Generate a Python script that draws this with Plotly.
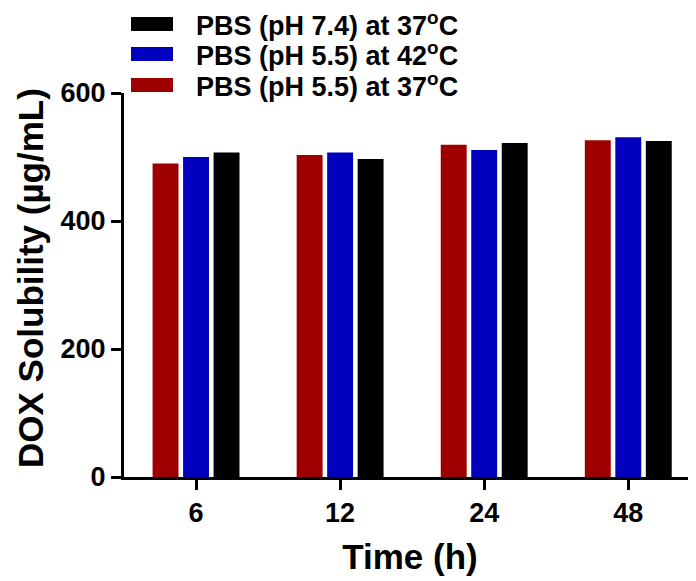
import plotly.graph_objects as go

categories = ["6", "12", "24", "48"]
series_names = ["PBS (pH 5.5) at 37<sup>o</sup>C",
                "PBS (pH 5.5) at 42<sup>o</sup>C",
                "PBS (pH 7.4) at 37<sup>o</sup>C"]
red_values = [490, 503, 519, 526]
blue_values = [500, 507, 511, 531]
black_values = [507, 497, 522, 525]
colors = ["#9E0000", "#0000BE", "#000000"]
y_ticks = [0, 200, 400, 600]
x_title = "Time (h)"
y_title = "DOX Solubility (µg/mL)"

OFF = 8  # default page body margin
W, H = 696 - OFF, 581 - OFF
L, R, T, B = 124 - OFF, 0, 93 - OFF, 104
FONT = "Liberation Sans, Arial, sans-serif"

fig = go.Figure()
for name, vals, col in zip(series_names, [red_values, blue_values, black_values], colors):
    fig.add_trace(go.Bar(x=categories, y=vals, name=name, marker_color=col,
                         marker_line_width=0, showlegend=False))

# manual legend (wide swatches); positions given in page pixels
pw = W - L - R
ph = H - T - B
def px_x(x):
    return (x - OFF - L) / pw
def px_y(y):
    return (H - B - (y - OFF)) / ph

legend_rows = [(series_names[2], colors[2], 24), (series_names[1], colors[1], 54), (series_names[0], colors[0], 85)]
for name, col, cy in legend_rows:
    fig.add_shape(type="rect", xref="paper", yref="paper",
                  x0=px_x(131), x1=px_x(173), y0=px_y(cy - 7), y1=px_y(cy + 7),
                  fillcolor=col, line_width=0)
    fig.add_annotation(xref="paper", yref="paper", x=px_x(194), y=px_y(cy),
                       text="<b>" + name + "</b>", showarrow=False,
                       xanchor="left", yanchor="middle",
                       font=dict(family=FONT, size=27, color="black"))

# y-axis title as rotated annotation (placed slightly above plot centre, as in reference)
fig.add_annotation(xref="paper", yref="paper", x=px_x(30), y=px_y(278),
                   text="<b>" + y_title + "</b>", textangle=-90, showarrow=False,
                   xanchor="center", yanchor="middle",
                   font=dict(family=FONT, size=35, color="black"))

fig.update_layout(
    width=W, height=H,
    margin=dict(l=L, r=R, t=T, b=B, autoexpand=False),
    plot_bgcolor="white", paper_bgcolor="white",
    barmode="group", bargap=0.365, bargroupgap=0.15,
    font=dict(family=FONT, size=27, color="black"),
)
fig.update_xaxes(
    type="category", range=[-0.5, 3.47],
    showline=True, linecolor="black", linewidth=3,
    ticks="outside", ticklen=10, tickwidth=3, tickcolor="black",
    tickfont=dict(family=FONT, size=27, color="black", weight="bold"),
    title=dict(text="<b>" + x_title + "</b>", font=dict(family=FONT, size=35, color="black"), standoff=18),
    showgrid=False, zeroline=False,
)
fig.update_yaxes(
    range=[0, 600], tickvals=y_ticks,
    showline=True, linecolor="black", linewidth=3,
    ticks="outside", ticklen=10, tickwidth=3, tickcolor="black",
    tickfont=dict(family=FONT, size=27, color="black", weight="bold"),
    showgrid=False, zeroline=False,
)

fig.write_html("out.html")
